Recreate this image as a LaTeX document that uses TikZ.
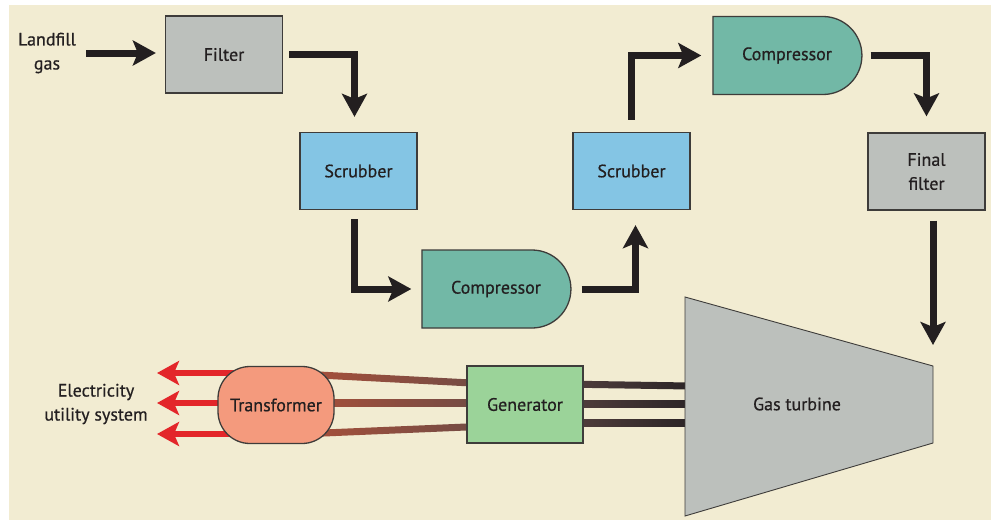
\documentclass[tikz,border=0pt]{standalone}
\usepackage{fontspec}
\setmainfont{PT Sans}[BoldFont=PT Sans, BoldFeatures={FakeBold=0.6}]
\usetikzlibrary{arrows.meta,shapes.misc,calc}

\definecolor{cream}{HTML}{F2ECD2}
\definecolor{ink}{HTML}{231F20}
\definecolor{edge}{HTML}{3E3C3A}
\definecolor{greybox}{HTML}{BCC0BC}
\definecolor{bluebox}{HTML}{84C5E4}
\definecolor{tealbox}{HTML}{72B8A6}
\definecolor{greenbox}{HTML}{9BD399}
\definecolor{salmon}{HTML}{F49A7D}
\definecolor{powerred}{HTML}{E3262A}
\definecolor{wireA}{HTML}{A9503A}
\definecolor{wireB}{HTML}{6F4B45}
\definecolor{wireC}{HTML}{55413F}
\definecolor{wireD}{HTML}{2B2426}

\newcommand\lbl{\fontsize{18}{24}\selectfont\bfseries}
% a shaded straight wire between two named points
\newcommand\wirebar[4]{%
  \shade[left color=#3, right color=#4]
    ($(#1)+(0,-3.5)$) -- ($(#2)+(0,-3.5)$) -- ($(#2)+(0,3.5)$) -- ($(#1)+(0,3.5)$) -- cycle;}

\pgfdeclarelayer{back}
\pgfdeclarelayer{wires}
\pgfsetlayers{back,wires,main}

\tikzset{
  unit/.style={draw=edge, line width=1.3pt, inner sep=0pt, align=center,
    text=ink, font=\lbl},
  sqbox/.style={unit, rectangle, minimum width=117pt, minimum height=77pt},
  comp/.style={unit, rounded rectangle, rounded rectangle left arc=none,
    fill=tealbox, minimum width=149pt, minimum height=78pt},
  flow/.style={draw=ink, line width=7pt,
    -{Stealth[length=23pt,width=25pt,inset=5pt]}},
  power/.style={draw=powerred, line width=6pt,
    -{Stealth[length=22pt,width=24pt,inset=5pt]}},
  caption/.style={inner sep=0pt, align=center, text=ink, font=\lbl},
}

\begin{document}
\begin{tikzpicture}[x=1pt, y=-1pt]
\useasboundingbox (0,0) rectangle (991,520);

\begin{pgfonlayer}{back}
  \fill[white] (0,0) rectangle (991,520);
  \fill[cream] (9,5) rectangle (991,520);
\end{pgfonlayer}

% process units
\node[caption] (land) at (47,53) {Landfill\\gas};
\node[sqbox, fill=greybox] (filter) at (224,54.5) {Filter};
\node[sqbox, fill=bluebox] (scr1) at (358.5,171) {Scrubber};
\node[comp] (comp1) at (496,289) {Compressor};
\node[sqbox, fill=bluebox] (scr2) at (631.5,171) {Scrubber};
\node[comp] (comp2) at (787,55.5) {Compressor};
\node[sqbox, fill=greybox] (ffil) at (926.5,171.5) {Final\\filter};

% gas turbine
\coordinate (gtA) at (685,297);
\coordinate (gtB) at (933,366);
\coordinate (gtC) at (933,443);
\coordinate (gtD) at (685,516);
\fill[greybox] (gtA) -- (gtB) -- (gtC) -- (gtD) -- cycle;
\draw[edge, line width=0.9pt] (gtA) -- (gtB) -- (gtC) -- (gtD) -- cycle;
\node[caption] (gt) at (797,404) {Gas turbine};

% power side
\node[sqbox, fill=greenbox, minimum width=116pt] (gen) at (525,404.5) {Generator};
\node[unit, rectangle, rounded corners=32pt, fill=salmon,
      minimum width=116pt, minimum height=77pt] (trans) at (276,405) {Transformer};
\node[caption] (grid) at (96,404) {Electricity\\utility system};

% gas path
\draw[flow, shorten <=10pt, shorten >=9pt] (land.east) -- (land.east -| filter.west);
\draw[flow] ([xshift=6pt]filter.east) -| ([xshift=-4pt,yshift=15pt]scr1.north);
\draw[flow] ([xshift=-4pt,yshift=-9pt]scr1.south) |- ([xshift=-10pt]comp1.west);
\draw[flow] ([xshift=10pt]comp1.east) -| ([xshift=4pt,yshift=-15pt]scr2.south);
\draw[flow] ([yshift=12pt]scr2.north) |- ([xshift=-11pt]comp2.west);
\draw[flow] ([xshift=8pt]comp2.east) -| ([yshift=16pt]ffil.north);
\draw[flow] ($(ffil.south -| gtB)+(0,10)$) -- ($(gtB)+(0,-21)$);

% shafts and cables
\coordinate (s1a) at (560,384); \coordinate (s1b) at (690,386);
\coordinate (s2a) at (560,404); \coordinate (s2b) at (690,404);
\coordinate (s3a) at (560,423); \coordinate (s3b) at (690,423);
\coordinate (c1a) at (300,374); \coordinate (c1b) at (490,384);
\coordinate (c2a) at (300,403); \coordinate (c2b) at (490,403);
\coordinate (c3a) at (300,434); \coordinate (c3b) at (490,426);
\coordinate (r1a) at (250,373); \coordinate (r1b) at (157,373);
\coordinate (r2a) at (250,403); \coordinate (r2b) at (157,403);
\coordinate (r3a) at (250,434); \coordinate (r3b) at (157,434);
\begin{pgfonlayer}{wires}
  \wirebar{s1a}{s1b}{wireC}{wireD}
  \wirebar{s2a}{s2b}{wireC}{wireD}
  \wirebar{s3a}{s3b}{wireC}{wireD}
  \wirebar{c1a}{c1b}{wireA}{wireB}
  \wirebar{c2a}{c2b}{wireA}{wireB}
  \wirebar{c3a}{c3b}{wireA}{wireB}
  \draw[power] (r1a) -- (r1b);
  \draw[power] (r2a) -- (r2b);
  \draw[power] (r3a) -- (r3b);
\end{pgfonlayer}
\end{tikzpicture}
\end{document}
